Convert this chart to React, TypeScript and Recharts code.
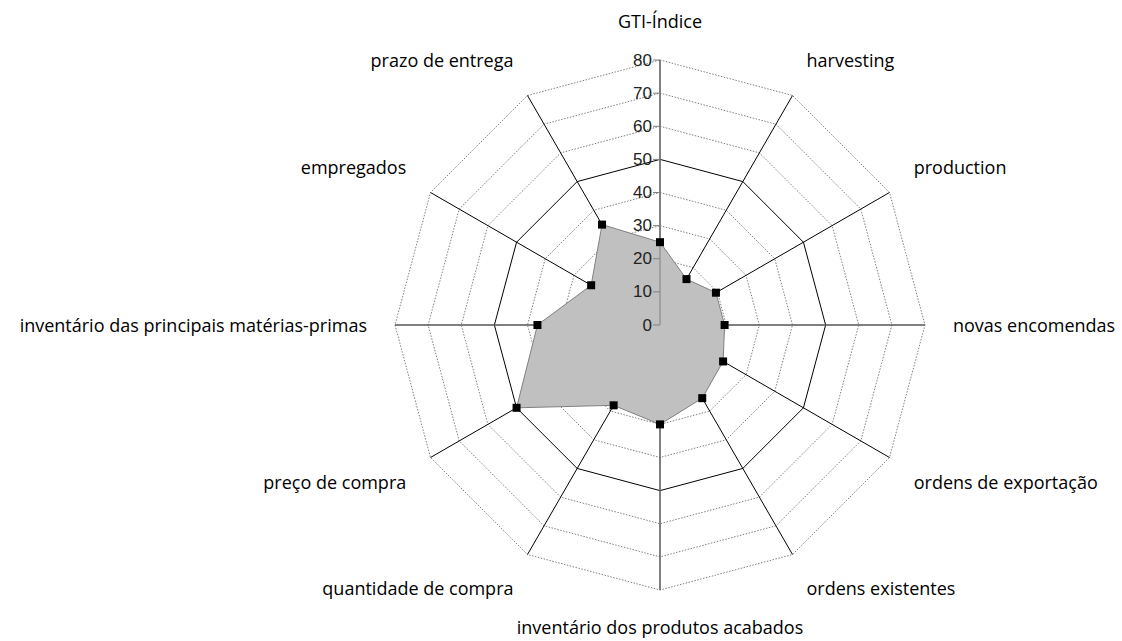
import { RadarChart, Radar, PolarGrid, PolarAngleAxis, PolarRadiusAxis } from "recharts";

// categories, clockwise from the top
const categories = [
  "GTI-Índice",
  "harvesting",
  "production",
  "novas encomendas",
  "ordens de exportação",
  "ordens existentes",
  "inventário dos produtos acabados",
  "quantidade de compra",
  "preço de compra",
  "inventário das principais matérias-primas",
  "empregados",
  "prazo de entrega",
];

const values = [25, 16, 19.5, 19.5, 22, 25.5, 30, 28, 50, 37, 24, 35];

const radiusTicks = [0, 10, 20, 30, 40, 50, 60, 70, 80];
const solidRing = 50;

const W = 1122;
const H = 641;
const CX = 660;
const CY = 325;
const OUTER = 265;
const MAX = 80;

const data = categories.map((name, i) => ({ name, value: values[i] }));

const rScale = (v: number) => (OUTER * v) / MAX;
const angles = categories.map((_, i) => 90 - (360 / categories.length) * i);
const dottedRadii = radiusTicks.filter(t => t > 0 && t !== solidRing).map(rScale);

const AngleTick = (props: any) => {
  const { payload } = props;
  const rad = (payload.coordinate * Math.PI) / 180;
  const hx = Math.cos(rad);
  const vy = Math.sin(rad);
  const px = CX + OUTER * hx;
  const py = CY - OUTER * vy;
  let anchor: "start" | "end" | "middle" = "middle";
  let x = px;
  if (hx > 1e-6) {
    anchor = "start";
    x = px + 28 * hx;
  } else if (hx < -1e-6) {
    anchor = "end";
    x = px + 28 * hx;
  }
  let dy = 0;
  if (vy > 1e-6) dy = -39 * Math.pow(vy, 0.6);
  else if (vy < -1e-6) dy = 37 * Math.pow(-vy, 0.6);
  return (
    <text
      x={x}
      y={py + dy}
      textAnchor={anchor}
      dominantBaseline="central"
      fontFamily="'Open Sans', sans-serif"
      fontSize={18}
      fill="#000"
    >
      {payload.value}
    </text>
  );
};

const RadiusTick = (props: any) => {
  const { x, y, payload } = props;
  return (
    <g>
      <line x1={x - 7} y1={y} x2={x} y2={y} stroke="#808080" strokeWidth={1} />
      <text
        x={x - 8}
        y={y}
        textAnchor="end"
        dominantBaseline="central"
        fontFamily="'Liberation Sans', Arial, sans-serif"
        fontSize={17}
        fill="#222"
      >
        {payload.value}
      </text>
    </g>
  );
};

const SquareDot = (props: any) => {
  const { cx, cy, index } = props;
  return <rect key={index} x={cx - 4} y={cy - 4} width={8} height={8} fill="#000" />;
};

export default function App() {
  return (
    <>
      <style>{"body { margin: 0; overflow: hidden; }"}</style>
      <RadarChart
        width={W}
        height={H}
        data={data}
        cx={CX}
        cy={CY}
        outerRadius={OUTER}
        margin={{ top: 0, right: 0, bottom: 0, left: 0 }}
      >
        <Radar
          dataKey="value"
          stroke="#808080"
          strokeWidth={1}
          fill="#c0c0c0"
          fillOpacity={1}
          dot={false}
          isAnimationActive={false}
        />
        {/* dotted rings */}
        <PolarGrid
          gridType="polygon"
          polarAngles={angles}
          polarRadius={dottedRadii}
          radialLines={false}
          stroke="#808080"
          strokeDasharray="1.5 1.5"
        />
        {/* solid 50 ring and black spokes */}
        <PolarGrid
          gridType="polygon"
          polarAngles={angles}
          polarRadius={[rScale(solidRing)]}
          radialLines={true}
          stroke="#000"
          strokeWidth={1}
        />
        {/* grey horizontal / vertical spokes */}
        <PolarGrid
          gridType="circle"
          polarAngles={[90, 0, -90, -180]}
          polarRadius={[]}
          radialLines={true}
          stroke="#808080"
          strokeWidth={1.2}
        />
        <PolarAngleAxis dataKey="name" axisLine={false} tickLine={false} tick={<AngleTick />} />
        <PolarRadiusAxis
          angle={90}
          domain={[0, MAX]}
          ticks={radiusTicks}
          tickCount={9}
          axisLine={{ stroke: "#808080" }}
          tickLine={false}
          tick={<RadiusTick />}
        />
        <Radar
          dataKey="value"
          stroke="none"
          fill="none"
          fillOpacity={0}
          dot={<SquareDot />}
          isAnimationActive={false}
        />
      </RadarChart>
    </>
  );
}
